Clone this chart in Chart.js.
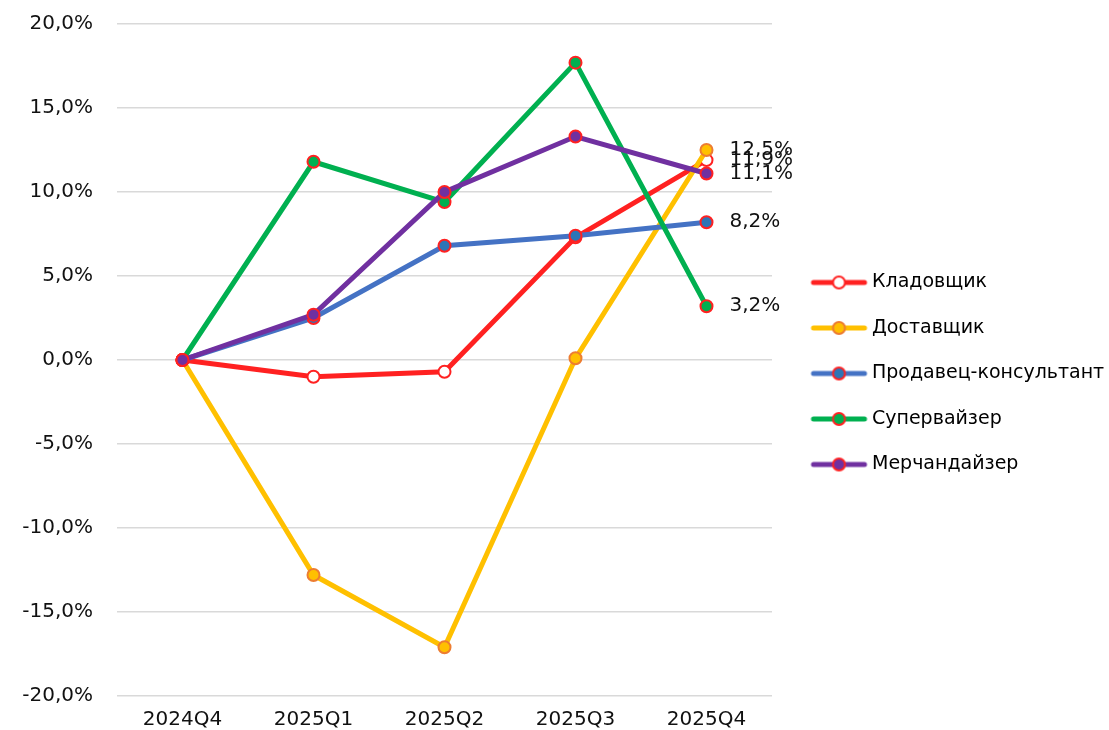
<!DOCTYPE html>
<html>
<head>
<meta charset="utf-8">
<script src="https://cdn.jsdelivr.net/npm/chart.js@4"></script>
<style>
  html, body { margin: 0; padding: 0; background: #fff; }
  #wrap { width: 1109px; height: 730px; }
</style>
</head>
<body>
<div id="wrap"><canvas id="chart"></canvas></div>
<script>
const quarters = ["2024Q4", "2025Q1", "2025Q2", "2025Q3", "2025Q4"];
const seriesNames = ["Кладовщик", "Доставщик", "Продавец-консультант", "Супервайзер", "Мерчандайзер"];

const storekeeper = [0, -1.0, -0.7, 7.3, 11.9];
const courier = [0, -12.8, -17.1, 0.1, 12.5];
const salesConsultant = [0, 2.5, 6.8, 7.4, 8.2];
const supervisor = [0, 11.8, 9.4, 17.7, 3.2];
const merchandiser = [0, 2.7, 10.0, 13.3, 11.1];

const yTicks = [-20, -15, -10, -5, 0, 5, 10, 15, 20];

const lineColors = ["#ff2121", "#ffc000", "#4472c4", "#00b050", "#7030a0"];
const pointFills = ["#ffffff", "#ffc000", "#2e75b6", "#00b050", "#7030a0"];
const pointBorders = ["#ff2121", "#ed7d31", "#ff2121", "#ff2121", "#ff2121"];

const fontName = "'DejaVu Sans', sans-serif";

function fmt(v) {
  return v.toFixed(1).replace(".", ",") + "%";
}

// legend marker: line with a circle in the middle (drawn off-centre on purpose)
function legendIcon(i) {
  const c = document.createElement("canvas");
  c.width = 80; c.height = 16;
  const g = c.getContext("2d");
  g.strokeStyle = lineColors[i];
  g.lineWidth = 5;
  g.lineCap = "round";
  g.beginPath();
  g.moveTo(23, 8); g.lineTo(74, 8);
  g.stroke();
  g.beginPath();
  g.arc(48.5, 8, 6, 0, Math.PI * 2);
  g.fillStyle = pointFills[i];
  g.fill();
  g.lineWidth = 2;
  g.strokeStyle = pointBorders[i];
  g.stroke();
  return c;
}

const allValues = [storekeeper, courier, salesConsultant, supervisor, merchandiser];

const datasets = seriesNames.map((name, i) => ({
  label: name,
  data: allValues[i],
  borderColor: lineColors[i],
  backgroundColor: pointFills[i],
  borderWidth: 5,
  pointRadius: 6,
  pointBorderWidth: 2,
  pointBackgroundColor: pointFills[i],
  pointBorderColor: pointBorders[i],
  pointStyle: "circle",
  legendImg: legendIcon(i),
  tension: 0,
  order: seriesNames.length - i
}));

const endLabels = {
  id: "endLabels",
  afterDatasetsDraw(chart) {
    const ctx = chart.ctx;
    ctx.save();
    ctx.font = "20px " + fontName;
    ctx.fillStyle = "#111";
    ctx.textBaseline = "middle";
    ctx.textAlign = "left";
    chart.data.datasets.forEach((ds, i) => {
      const meta = chart.getDatasetMeta(i);
      const last = meta.data[meta.data.length - 1];
      ctx.fillText(fmt(ds.data[ds.data.length - 1]), last.x + 23, last.y);
    });
    ctx.restore();
  }
};

new Chart(document.getElementById("chart"), {
  type: "line",
  data: {
    labels: quarters,
    datasets: datasets
  },
  options: {
    responsive: true,
    maintainAspectRatio: false,
    animation: false,
    layout: { padding: { top: 17, left: 0, right: 0, bottom: 0 } },
    plugins: {
      tooltip: { enabled: false },
      legend: {
        position: "right",
        maxWidth: 337,
        labels: {
          usePointStyle: true,
          pointStyleWidth: 64,
          padding: 26.5,
          color: "#111",
          font: { family: fontName, size: 19 },
          generateLabels(chart) {
            return chart.data.datasets.map((ds, i) => ({
              text: ds.label,
              pointStyle: ds.legendImg,
              datasetIndex: i,
              lineWidth: 0,
              hidden: false
            }));
          }
        }
      }
    },
    scales: {
      x: {
        offset: true,
        grid: { display: false, drawTicks: false },
        border: { display: false },
        ticks: { color: "#111", padding: 12, font: { family: fontName, size: 20 } },
        afterFit(scale) { scale.height = 34; }
      },
      y: {
        min: -20,
        max: 20,
        afterBuildTicks(scale) { scale.ticks = yTicks.map(v => ({ value: v })); },
        grid: { color: "#d9d9d9", lineWidth: 1.5, drawTicks: false },
        border: { display: false },
        ticks: {
          color: "#111",
          padding: 24,
          font: { family: fontName, size: 20 },
          callback: v => fmt(v)
        },
        afterFit(scale) {
          scale.width = 117;
          scale.paddingTop = 24;
          scale.paddingBottom = 0;
        }
      }
    }
  },
  plugins: [endLabels]
});
</script>
</body>
</html>
